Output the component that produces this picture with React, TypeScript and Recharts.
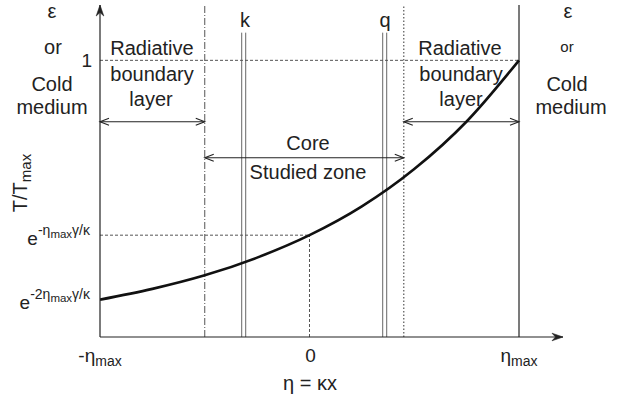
import { ComposedChart, Line, XAxis, YAxis, ReferenceLine } from "recharts"

// curve: eta in units of eta_max, T/Tmax
const etaPoints = [-1, -0.75, -0.5, -0.25, 0, 0.25, 0.5, 0.75, 1]
const tempPoints = [0.135, 0.174, 0.223, 0.287, 0.368, 0.472, 0.607, 0.779, 1.0]

const xTicks = [-1, 0, 1]
const yTicks = [0.135, 0.368, 1]
const yTickExp = ["-2η", "-η", ""]

const xDomain = [-1, 1.21]
const yDomain = [0, 1.2]

// zone limits and planes (eta / eta_max)
const boundaryLeft = -0.5
const boundaryRight = 0.45
const kPlane = -0.314
const qPlane = 0.359
const planeTop = 1.1
const layerArrowT = 0.778
const coreArrowT = 0.648

const data = etaPoints.map((eta, i) => ({ eta, temp: tempPoints[i] }))

const FONT = "'Liberation Sans', Arial, Helvetica, sans-serif"
const INK = "#222"
const GUIDE = "#555"

function DoubleArrow(props: any) {
  const { x1, y1, x2, y2 } = props
  const h = 9
  const w = 3.5
  return (
    <g stroke={INK} strokeWidth={1.1} fill="none">
      <line x1={x1} y1={y1} x2={x2} y2={y2} />
      <polyline points={`${x1 + h},${y1 - w} ${x1},${y1} ${x1 + h},${y1 + w}`} />
      <polyline points={`${x2 - h},${y2 - w} ${x2},${y2} ${x2 - h},${y2 + w}`} />
    </g>
  )
}

// axis arrowhead pointing from (x1,y1) toward (x2,y2), tip at (x2,y2)
function AxisHead(props: any) {
  const { x1, y1, x2, y2 } = props
  const ang = (Math.atan2(y2 - y1, x2 - x1) * 180) / Math.PI
  return (
    <g transform={`translate(${x2},${y2}) rotate(${ang})`}>
      <path d="M0,0 L-11,-3.8 L-7.5,0 L-11,3.8 Z" fill={INK} stroke={INK} strokeWidth={0.6} />
    </g>
  )
}

function DoublePlane(props: any) {
  const { x1, y1, x2, y2 } = props
  return (
    <g stroke="#666" strokeWidth={1}>
      <line x1={x1 - 2} y1={y1} x2={x2 - 2} y2={y2} />
      <line x1={x1 + 2} y1={y1} x2={x2 + 2} y2={y2} />
    </g>
  )
}

function EtaTick({ x, payload }: any) {
  const v = payload.value
  const base = 362
  if (v === 0) {
    return (
      <text x={x + 1} y={base} textAnchor="middle" fontSize={19} fill={INK} fontFamily={FONT}>
        0
      </text>
    )
  }
  return (
    <text x={x} y={base} textAnchor="middle" fontSize={19} fill={INK} fontFamily={FONT}>
      {v < 0 ? "-η" : "η"}
      <tspan fontSize={14} dy={4}>max</tspan>
    </text>
  )
}

function TempTick({ y, payload }: any) {
  const i = yTicks.indexOf(payload.value)
  if (yTickExp[i] === "") {
    return (
      <text x={92} y={y + 7} textAnchor="end" fontSize={19} fill={INK} fontFamily={FONT}>
        1
      </text>
    )
  }
  return (
    <text x={90} y={y + 9.5} textAnchor="end" fontSize={19} fill={INK} fontFamily={FONT}>
      e
      <tspan fontSize={14} dy={-10}>{yTickExp[i]}</tspan>
      <tspan fontSize={11.5} dy={3}>max</tspan>
      <tspan fontSize={14} dy={-3}>γ/κ</tspan>
    </text>
  )
}

function Annotations() {
  const t = { fill: INK, fontFamily: FONT, fontSize: 20, textAnchor: "middle" as const }
  return (
    <g>
      {/* left medium */}
      <text {...t} x={52} y={18}>ε</text>
      <text {...t} x={53} y={54}>or</text>
      <text {...t} x={52} y={91}>Cold</text>
      <text {...t} x={52} y={114}>medium</text>
      {/* right medium */}
      <text {...t} x={568} y={18}>ε</text>
      <text {...t} x={567} y={52} fontSize={15}>or</text>
      <text {...t} x={567} y={91}>Cold</text>
      <text {...t} x={571} y={114}>medium</text>
      {/* boundary layers */}
      <text {...t} x={152} y={55}>Radiative</text>
      <text {...t} x={152} y={81}>boundary</text>
      <text {...t} x={151} y={106}>layer</text>
      <text {...t} x={460} y={55}>Radiative</text>
      <text {...t} x={461} y={81}>boundary</text>
      <text {...t} x={461} y={106}>layer</text>
      {/* core */}
      <text {...t} x={308} y={150}>Core</text>
      <text {...t} x={308} y={179}>Studied zone</text>
      <text {...t} x={245} y={27}>k</text>
      <text {...t} x={385} y={27}>q</text>
      {/* axis titles */}
      <text {...t} transform="translate(27,183) rotate(-90)">
        T/T<tspan fontSize={15} dy={4}>max</tspan>
      </text>
      <text {...t} x={310} y={390}>η = κx</text>
    </g>
  )
}

export default function App() {
  return (
    <div style={{ position: "absolute", left: 0, top: 0, width: 619, height: 405, background: "#fff", fontFamily: FONT }}>
      <ComposedChart width={619} height={405} data={data} margin={{ top: 5, right: 56, bottom: 0, left: 0 }}>
        <XAxis
          dataKey="eta"
          type="number"
          domain={xDomain}
          allowDataOverflow
          ticks={xTicks}
          interval={0}
          height={68}
          tickLine={false}
          axisLine={{ stroke: INK, strokeWidth: 1.2 }}
          tick={(p: any) => <EtaTick {...p} />}
        />
        <YAxis
          type="number"
          domain={yDomain}
          allowDataOverflow
          ticks={yTicks}
          interval={0}
          width={100}
          tickLine={false}
          axisLine={{ stroke: INK, strokeWidth: 1.2 }}
          tick={(p: any) => <TempTick {...p} />}
        />

        <ReferenceLine x={boundaryLeft} stroke={GUIDE} strokeWidth={1} strokeDasharray="7 2 1 2" />
        <ReferenceLine x={boundaryRight} stroke={GUIDE} strokeWidth={1.2} strokeDasharray="1.5 2" />
        <ReferenceLine x={1} stroke={INK} strokeWidth={1.2} />
        <ReferenceLine
          segment={[{ x: kPlane, y: 0 }, { x: kPlane, y: planeTop }]}
          shape={(p: any) => <DoublePlane {...p} />}
        />
        <ReferenceLine
          segment={[{ x: qPlane, y: 0 }, { x: qPlane, y: planeTop }]}
          shape={(p: any) => <DoublePlane {...p} />}
        />
        <ReferenceLine segment={[{ x: -1, y: 1 }, { x: 1, y: 1 }]} stroke={GUIDE} strokeDasharray="3 2" />
        <ReferenceLine
          segment={[{ x: -1, y: tempPoints[4] }, { x: 0, y: tempPoints[4] }]}
          stroke={GUIDE}
          strokeDasharray="3 2"
        />
        <ReferenceLine
          segment={[{ x: 0, y: 0 }, { x: 0, y: tempPoints[4] }]}
          stroke={GUIDE}
          strokeDasharray="3 2"
        />

        <ReferenceLine
          segment={[{ x: -1, y: layerArrowT }, { x: boundaryLeft, y: layerArrowT }]}
          shape={(p: any) => <DoubleArrow {...p} />}
        />
        <ReferenceLine
          segment={[{ x: boundaryRight, y: layerArrowT }, { x: 1, y: layerArrowT }]}
          shape={(p: any) => <DoubleArrow {...p} />}
        />
        <ReferenceLine
          segment={[{ x: boundaryLeft, y: coreArrowT }, { x: boundaryRight, y: coreArrowT }]}
          shape={(p: any) => <DoubleArrow {...p} />}
        />

        {/* axis arrowheads */}
        <ReferenceLine
          segment={[{ x: xDomain[1] - 0.05, y: 0 }, { x: xDomain[1], y: 0 }]}
          ifOverflow="visible"
          shape={(p: any) => <AxisHead {...p} />}
        />
        <ReferenceLine
          segment={[{ x: xDomain[0], y: yDomain[1] - 0.05 }, { x: xDomain[0], y: yDomain[1] }]}
          ifOverflow="visible"
          shape={(p: any) => <AxisHead {...p} />}
        />

        <Line
          dataKey="temp"
          type="monotone"
          stroke="#111"
          strokeWidth={2.6}
          dot={false}
          isAnimationActive={false}
        />
        <Annotations />
      </ComposedChart>
    </div>
  )
}
